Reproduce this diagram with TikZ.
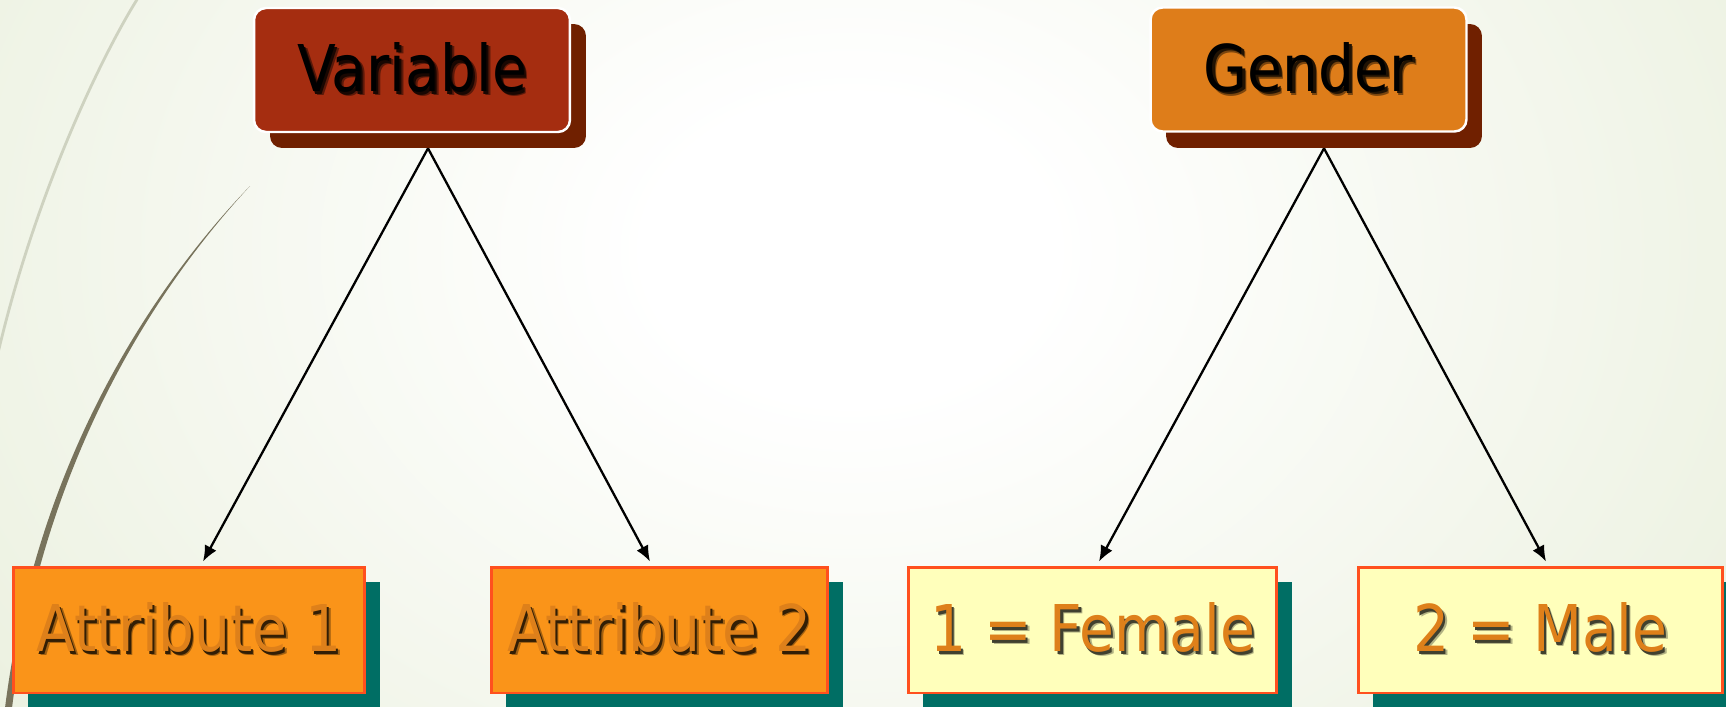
\documentclass[tikz,border=0pt]{standalone}
\usepackage{fontspec}
\newfontfamily\boxfont[FakeStretch=0.88]{DejaVu Sans}
\usetikzlibrary{arrows.meta}

\definecolor{bgEdge}{RGB}{225,233,207}
\definecolor{varRed}{RGB}{165,45,16}
\definecolor{genOrange}{RGB}{222,125,26}
\definecolor{headShadow}{RGB}{112,32,0}
\definecolor{attrFill}{RGB}{250,148,25}
\definecolor{valFill}{RGB}{255,255,187}
\definecolor{edgeRed}{RGB}{255,80,30}
\definecolor{tealShadow}{RGB}{0,110,100}
\definecolor{labelOrange}{RGB}{222,128,26}
\definecolor{arcDark}{RGB}{120,115,92}
\definecolor{arcLight}{RGB}{206,210,192}

\pgfdeclareradialshading{glow}{\pgfpoint{0bp}{0bp}}{color(0bp)=(white); color(5bp)=(white); color(38bp)=(bgEdge); color(50bp)=(bgEdge)}

% text with a soft drop shadow below right (two layers: outer lighter, inner darker)
\newcommand\shadowtext[3]{%
  \rlap{\kern2.2pt\raisebox{-2.2pt}{\color{#2}#3}}%
  \rlap{\kern1.3pt\raisebox{-1.3pt}{\color{#1}#3}}#3}

\begin{document}
\begin{tikzpicture}[x=0.02cm, y=-0.02cm,
  txt/.style={font=\boxfont\fontsize{36.7}{42}\selectfont, text height=25pt, text depth=0pt},
  headbox/.style={rounded corners=0.24cm, minimum width=6.32cm, minimum height=2.48cm, inner sep=0pt},
  headfront/.style={headbox, txt, draw=white, line width=1.4pt},
  headshadow/.style={headbox, fill=headShadow},
  valbox/.style={txt, minimum height=2.52cm, inner sep=0pt, draw=edgeRed, line width=1.7pt},
  valshadow/.style={minimum height=2.52cm, inner sep=0pt, fill=tealShadow},
  arr/.style={-{Latex[length=9pt,width=7.5pt]}, line width=1.3pt, black}]

\useasboundingbox (0,0) rectangle (1726,706);

% background glow and decorative arcs
\begin{scope}
  \clip (0,0) rectangle (1726,706);
  \shade[shading=glow] (-150,-500) rectangle (1850,1000);
  \draw[arcLight, line width=1.6pt] (138,-2) .. controls (105,50) and (30,200) .. (-8,380);
  \fill[arcDark] (250,186) .. controls (145,295) and (35,470) .. (5,708)
    -- (12,708) .. controls (41,472) and (147,297) .. (250,186) -- cycle;
\end{scope}

% heading boxes
\node[headshadow] (varsh) at (428,86) {};
\node[headfront, fill=varRed] (var) at (412,70)
  {\shadowtext{black!85!varRed}{black!45!varRed}{Variable}};
\node[headshadow] (gensh) at (1324,86) {};
\node[headfront, fill=genOrange] (gen) at (1308.5,69.5)
  {\shadowtext{black!85!genOrange}{black!45!genOrange}{Gender}};

% value boxes
\node[valshadow, minimum width=7.04cm] (a1sh) at (204,645) {};
\node[valbox, fill=attrFill, minimum width=7.04cm, text=labelOrange] (a1) at (189,630)
  {\shadowtext{black!80!attrFill}{black!35!attrFill}{Attribute 1}};
\node[valshadow, minimum width=6.74cm] (a2sh) at (674.5,645) {};
\node[valbox, fill=attrFill, minimum width=6.74cm, text=labelOrange] (a2) at (659.5,630)
  {\shadowtext{black!80!attrFill}{black!35!attrFill}{Attribute 2}};
\node[valshadow, minimum width=7.38cm] (fsh) at (1107.5,645) {};
\node[valbox, fill=valFill, minimum width=7.38cm, text=labelOrange] (fem) at (1092.5,630)
  {\shadowtext{black!75!valFill}{black!30!valFill}{1 = Female}};
\node[valshadow, minimum width=7.3cm] (msh) at (1555.5,645) {};
\node[valbox, fill=valFill, minimum width=7.3cm, text=labelOrange] (mal) at (1540.5,630)
  {\shadowtext{black!75!valFill}{black!30!valFill}{2 = Male}};

% connectors
\draw[arr] (varsh.south) -- ([xshift=0.28cm,yshift=0.08cm]a1.north);
\draw[arr] (varsh.south) -- ([xshift=-0.19cm,yshift=0.08cm]a2.north);
\draw[arr] (gensh.south) -- ([xshift=0.13cm,yshift=0.08cm]fem.north);
\draw[arr] (gensh.south) -- ([xshift=0.11cm,yshift=0.08cm]mal.north);
\end{tikzpicture}
\end{document}
